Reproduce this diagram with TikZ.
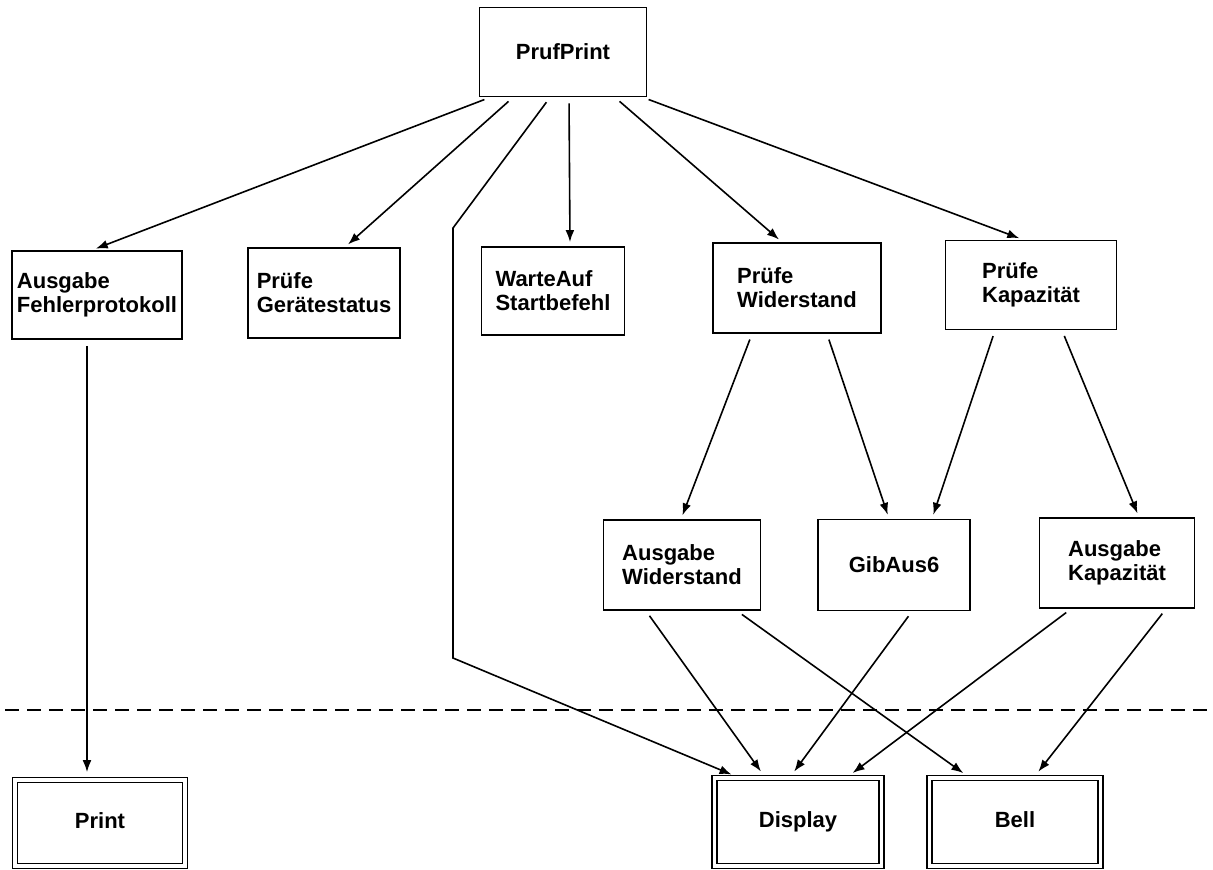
\documentclass[tikz,border=0pt]{standalone}
\usepackage{fontspec}
\setmainfont{Liberation Sans}
\usetikzlibrary{arrows.meta}
\usetikzlibrary{calc}

\begin{document}
\begin{tikzpicture}[x=0.5pt,y=-0.5pt,
  box/.style={draw,line width=0.9pt,inner sep=0pt,align=left,
    font=\fontsize{11}{12}\selectfont\bfseries},
  sink/.style={box,double,line width=0.8pt,double distance=1.7pt,
    text height=0.72em,text depth=0.2em},
  arr/.style={line width=0.8pt,-{Latex[length=6pt,width=4.4pt]},
    shorten <=3pt,shorten >=2pt},
  arrlow/.style={arr,shorten >=3.5pt}]
\useasboundingbox (0,0) rectangle (1213,869);

\node[box,minimum width=83.5pt,minimum height=44.5pt] (top) at (563,52) {PrufPrint};

\node[box,minimum width=85pt,minimum height=44pt] (fehler) at (97,295) {Ausgabe\\Fehlerprotokoll};
\node[box,minimum width=76pt,minimum height=45pt] (geraet) at (324,293) {Prüfe\\Gerätestatus};
\node[box,minimum width=71.5pt,minimum height=44pt] (warte) at (553,291) {WarteAuf\\Startbefehl};
\node[box,minimum width=84pt,minimum height=45pt] (pwid) at (797,288) {Prüfe\\Widerstand};
\node[box,minimum width=85.5pt,minimum height=44.5pt] (pkap) at (1031,285) {Prüfe\\Kapazität};

\node[box,minimum width=78.5pt,minimum height=45pt] (awid) at (682,565) {Ausgabe\\Widerstand};
\node[box,minimum width=76pt,minimum height=45.5pt] (gib) at (894,565) {GibAus6};
\node[box,minimum width=77.5pt,minimum height=45pt] (akap) at (1117,563) {Ausgabe\\Kapazität};

\node[sink,minimum width=85pt,minimum height=43pt] (print) at (100,823) {Print};
\node[sink,minimum width=83.5pt,minimum height=44pt] (display) at (798,822) {Display};
\node[sink,minimum width=85.5pt,minimum height=44pt] (bell) at (1015,822) {Bell};

\draw[line width=0.8pt,dash pattern=on 7pt off 4pt] (5,710) -- (1213,710);

\coordinate (bendA) at (453,228);
\coordinate (bendB) at (453,658);

\draw[arr] ($(top.south)+(-73,0)$) -- ($(fehler.north)+(-5,0)$);
\draw[arr] ($(top.south)+(-50,0)$) -- ($(geraet.north)+(21,0)$);
\draw[arrlow] ($(top.south)+(-13,0)$) -- (bendA) -- (bendB) -- ($(display.north)+(-60,0)$);
\draw[arr] ($(top.south)+(6,0)$) -- ($(warte.north)+(17,0)$);
\draw[arr] ($(top.south)+(52,0)$) -- ($(pwid.north)+(-15,0)$);
\draw[arr] ($(top.south)+(80,0)$) -- ($(pkap.north)+(-8,0)$);

\draw[arr] ($(pwid.south)+(-45,0)$) -- ($(awid.north)+(-1,0)$);
\draw[arr] ($(pwid.south)+(30,0)$) -- ($(gib.north)+(-5,0)$);
\draw[arr] ($(pkap.south)+(-36,0)$) -- ($(gib.north)+(38,0)$);
\draw[arr] ($(pkap.south)+(31,0)$) -- ($(akap.north)+(22,0)$);

\draw[arrlow] ($(fehler.south)+(-10,0)$) -- ($(print.north)+(-13,0)$);
\draw[arrlow] ($(awid.south)+(-36,0)$) -- ($(display.north)+(-33,0)$);
\draw[arrlow] ($(awid.south)+(55,0)$) -- ($(bell.north)+(-46,0)$);
\draw[arrlow] ($(gib.south)+(18,0)$) -- ($(display.north)+(-8,0)$);
\draw[arrlow] ($(akap.south)+(-46,0)$) -- ($(display.north)+(49,0)$);
\draw[arrlow] ($(akap.south)+(49,0)$) -- ($(bell.north)+(19,0)$);
\end{tikzpicture}
\end{document}
